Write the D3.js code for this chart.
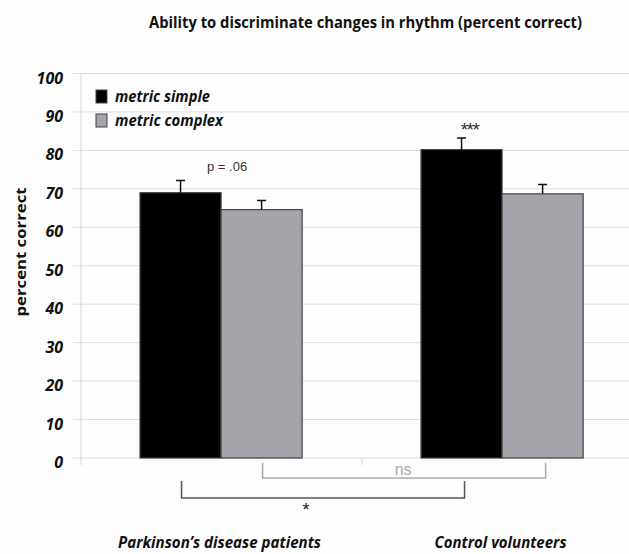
<!DOCTYPE html>
<html><head><meta charset="utf-8">
<script src="https://cdn.jsdelivr.net/npm/d3@7"></script>
<style>body{margin:0;background:#fdfdfd}svg{display:block}</style>
</head><body>
<svg id="c" width="629" height="554"></svg>
<script>
const categories = ["Parkinson\u2019s disease patients", "Control volunteers"];
const seriesNames = ["metric simple", "metric complex"];
const simpleValues = [69, 80.2];
const complexValues = [64.6, 68.7];
const simpleErr = [3.2, 3.0];
const complexErr = [2.4, 2.4];
const yTicks = [0,10,20,30,40,50,60,70,80,90,100];
const colors = ["#000000", "#a3a5ab"];

const svg = d3.select("#c");
const W = 629, H = 554;
const y = d3.scaleLinear().domain([0,100]).range([458, 73.5]);
const x0 = d3.scaleBand().domain(categories).range([81, 643]).padding(0);
const bw = x0.bandwidth();
const x1 = d3.scaleBand().domain(seriesNames).range([bw*0.21, bw*0.787]).padding(0);

// gridlines
svg.append("g").selectAll("line").data(yTicks).join("line")
  .attr("x1", 73).attr("x2", W).attr("y1", d=>y(d)).attr("y2", d=>y(d))
  .attr("stroke", "#dedede").attr("stroke-width", 1);
// y axis line
svg.append("line").attr("x1",81).attr("x2",81).attr("y1",y(100)).attr("y2",465)
  .attr("stroke","#d6d6d6");
// x middle tick
svg.append("line").attr("x1",x0(categories[1])).attr("x2",x0(categories[1]))
  .attr("y1",y(0)).attr("y2",465).attr("stroke","#d6d6d6");

// y tick labels
svg.append("g").selectAll("text").data(yTicks).join("text")
  .attr("x", 63).attr("y", d=>y(d)+10)
  .attr("text-anchor","end")
  .attr("font-family","Open Sans, sans-serif").attr("font-weight","bold").attr("font-style","italic")
  .attr("font-size",16).attr("fill","#111").text(d=>d);

// y title
svg.append("text").attr("transform","translate(26,252) rotate(-90)")
  .attr("text-anchor","middle")
  .attr("font-family","Open Sans, sans-serif").attr("font-weight","bold")
  .attr("font-size",14.5).attr("fill","#111").attr("textLength",129).attr("lengthAdjust","spacingAndGlyphs")
  .text("percent correct");

// title
svg.append("text").attr("x",365.5).attr("y",28).attr("text-anchor","middle")
  .attr("textLength",433).attr("lengthAdjust","spacingAndGlyphs")
  .attr("font-family","Open Sans, sans-serif").attr("font-weight","bold")
  .attr("font-size",15.5).attr("fill","#111")
  .text("Ability to discriminate changes in rhythm (percent correct)");

const data = categories.map((c,i)=>({cat:c, vals:[
  {s:seriesNames[0], v:simpleValues[i], e:simpleErr[i], col:colors[0]},
  {s:seriesNames[1], v:complexValues[i], e:complexErr[i], col:colors[1]}]}));

const g = svg.append("g").selectAll("g").data(data).join("g")
  .attr("transform", d=>`translate(${x0(d.cat)},0)`);
g.selectAll("rect").data(d=>d.vals).join("rect")
  .attr("x", d=>x1(d.s)).attr("width", x1.bandwidth())
  .attr("y", d=>y(d.v)).attr("height", d=>y(0)-y(d.v))
  .attr("fill", d=>d.col).attr("stroke", "#444").attr("stroke-width",1.2);
// error bars
g.selectAll("path.err").data(d=>d.vals).join("path").attr("class","err")
  .attr("d", d=>{const cx=x1(d.s)+x1.bandwidth()/2; const t=y(d.v+d.e);
    return `M${cx},${y(d.v)}V${t}M${cx-4.5},${t}H${cx+4.5}`;})
  .attr("stroke","#111").attr("stroke-width",1.5).attr("fill","none");

// legend
const leg = svg.append("g");
const legLen = [95, 108];
seriesNames.forEach((s,i)=>{
  const ly = 90 + i*24;
  leg.append("rect").attr("x",96).attr("y",ly).attr("width",11).attr("height",13)
    .attr("fill",colors[i]).attr("stroke","#444").attr("stroke-width",1);
  leg.append("text").attr("x",115).attr("y",ly+12)
    .attr("font-family","Open Sans, sans-serif").attr("font-weight","bold").attr("font-style","italic")
    .attr("font-size",16.5).attr("fill","#111")
    .attr("textLength",legLen[i]).attr("lengthAdjust","spacingAndGlyphs").text(s);
});

// annotations
const cx = (ci, si) => x0(categories[ci]) + x1(seriesNames[si]) + x1.bandwidth()/2;
svg.append("text").attr("x", x0(categories[0])+x1(seriesNames[1])+6).attr("y",171)
  .attr("text-anchor","middle").attr("font-family","Liberation Sans, Arial, sans-serif")
  .attr("font-size",13).attr("fill","#333").text("p = .06");
svg.append("text").attr("x", cx(1,0)+8).attr("y",136)
  .attr("text-anchor","middle").attr("font-family","Liberation Sans, Arial, sans-serif")
  .attr("font-size",19).attr("fill","#333").attr("letter-spacing",-1.5).text("***");

// ns bracket
svg.append("path").attr("d",`M${cx(0,1)+1},${y(0)+5}V${y(0)+20}H${cx(1,1)+3}V${y(0)+5}`)
  .attr("fill","none").attr("stroke","#aaa").attr("stroke-width",1.5);
svg.append("text").attr("x",(cx(0,1)+cx(1,1))/2+1).attr("y",y(0)+17)
  .attr("text-anchor","middle").attr("font-family","Liberation Sans, Arial, sans-serif")
  .attr("font-size",16).attr("fill","#aaa").text("ns");
// * bracket
svg.append("path").attr("d",`M${cx(0,0)+1},${y(0)+23}V${y(0)+40}H${cx(1,0)+3}V${y(0)+23}`)
  .attr("fill","none").attr("stroke","#555").attr("stroke-width",1.5);
svg.append("text").attr("x",(cx(0,0)+cx(1,0))/2-15).attr("y",y(0)+58)
  .attr("text-anchor","middle").attr("font-family","Liberation Sans, Arial, sans-serif")
  .attr("font-size",18).attr("fill","#222").text("*");

// category labels
svg.append("g").selectAll("text").data(categories).join("text")
  .attr("x", d=>x0(d)+bw/2-2).attr("y",548)
  .attr("text-anchor","middle")
  .attr("font-family","Open Sans, sans-serif").attr("font-weight","bold").attr("font-style","italic")
  .attr("font-size",16.5).attr("fill","#111")
  .attr("textLength",(d,i)=>i===0?203:132).attr("lengthAdjust","spacingAndGlyphs")
  .text(d=>d);
</script>
</body></html>
